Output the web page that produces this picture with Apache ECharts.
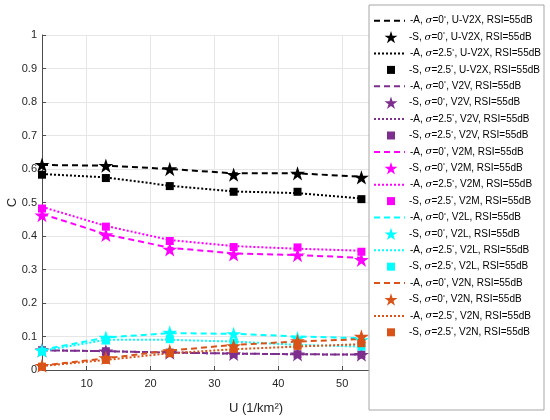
<!DOCTYPE html>
<html>
<head>
    <meta charset="utf-8">
    <title>C vs U</title>
    <script src="https://cdn.jsdelivr.net/npm/echarts@6/dist/echarts.min.js"></script>
    <style>
        body { margin: 0; background: #fff; }
        #chart { width: 550px; height: 420px; }
    </style>
</head>
<body>
    <div id="chart"></div>
<script type="text/javascript">
    // U values (1/km^2)
    var uVals = [3, 13, 23, 33, 43, 53];
    var xTicks = [10, 20, 30, 40, 50, 60];

    // groups: name + colour
    var groups = ['U-V2X', 'V2V', 'V2M', 'V2L', 'V2N'];
    var colors = ['#000000', '#7E2F8E', '#FF00FF', '#00FFFF', '#D95319'];

    // analytical (lines) and simulated (markers), sigma = 0 and 2.5 deg
    var v2xA0 = [0.612, 0.610, 0.600, 0.587, 0.587, 0.577];
    var v2xS0 = [0.613, 0.610, 0.600, 0.583, 0.587, 0.575];
    var v2xA25 = [0.585, 0.575, 0.550, 0.533, 0.528, 0.512];
    var v2xS25 = [0.583, 0.573, 0.549, 0.532, 0.532, 0.510];

    var v2vA0 = [0.059, 0.056, 0.052, 0.049, 0.047, 0.046];
    var v2vS0 = [0.059, 0.056, 0.052, 0.048, 0.047, 0.046];
    var v2vA25 = [0.059, 0.056, 0.052, 0.049, 0.047, 0.046];
    var v2vS25 = [0.059, 0.056, 0.052, 0.048, 0.047, 0.046];

    var v2mA0 = [0.466, 0.405, 0.365, 0.348, 0.343, 0.335];
    var v2mS0 = [0.462, 0.403, 0.360, 0.345, 0.343, 0.329];
    var v2mA25 = [0.487, 0.430, 0.388, 0.370, 0.362, 0.356];
    var v2mS25 = [0.482, 0.428, 0.385, 0.367, 0.366, 0.353];

    var v2lA0 = [0.060, 0.097, 0.110, 0.108, 0.100, 0.095];
    var v2lS0 = [0.058, 0.097, 0.112, 0.108, 0.095, 0.090];
    var v2lA25 = [0.057, 0.090, 0.090, 0.085, 0.075, 0.070];
    var v2lS25 = [0.055, 0.088, 0.092, 0.082, 0.075, 0.070];

    var v2nA0 = [0.013, 0.035, 0.058, 0.075, 0.085, 0.092];
    var v2nS0 = [0.013, 0.036, 0.057, 0.072, 0.087, 0.100];
    var v2nA25 = [0.012, 0.030, 0.050, 0.062, 0.070, 0.077];
    var v2nS25 = [0.010, 0.030, 0.050, 0.063, 0.072, 0.080];

    var groupData = [
        [v2xA0, v2xS0, v2xA25, v2xS25],
        [v2vA0, v2vS0, v2vA25, v2vS25],
        [v2mA0, v2mS0, v2mA25, v2mS25],
        [v2lA0, v2lS0, v2lA25, v2lS25],
        [v2nA0, v2nS0, v2nA25, v2nS25]
    ];

    // five point star (pentagram)
    var STAR = 'path://M50,0 L61.2,34.5 L97.6,34.5 L68.2,55.9 L79.4,90.5 L50,69.1 L20.6,90.5 L31.8,55.9 L2.4,34.5 L38.8,34.5 Z';

    function pairs(arr) {
        return arr.map(function (v, i) { return [uVals[i], v]; });
    }

    var series = [];
    var legends = [];
    var font = 'Liberation Sans';
    var legendRich = {
        i: { fontStyle: 'italic', fontSize: 10, fontFamily: 'DejaVu Serif', lineHeight: 14 },
        s: { fontSize: 6, padding: [0, 0, 5, 0], lineHeight: 14 }
    };
    function fmt(name) {
        return name.replace('σ', '{i|σ}').replace('°', '{s|°}');
    }
    function legendText(extraPad) {
        return {
            fontSize: 10, fontFamily: font, color: '#000', lineHeight: 14,
            rich: legendRich, padding: [0, 0, 0, extraPad]
        };
    }

    var idx = 0;
    groups.forEach(function (g, gi) {
        var c = colors[gi];
        var d = groupData[gi];
        var kinds = [
            { n: '-A, σ=0°, ' + g + ', RSI=55dB', type: 'dash', data: d[0] },
            { n: '-S, σ=0°, ' + g + ', RSI=55dB', sym: 'star', data: d[1] },
            { n: '-A, σ=2.5°, ' + g + ', RSI=55dB', type: 'dot', data: d[2] },
            { n: '-S, σ=2.5°, ' + g + ', RSI=55dB', sym: 'rect', data: d[3] }
        ];
        kinds.forEach(function (k) {
            var cy = 20.7 + idx * 16.4;
            if (k.type) {
                series.push({
                    name: k.n,
                    type: 'line',
                    data: pairs(k.data),
                    symbol: 'none',
                    lineStyle: {
                        color: c,
                        width: 2,
                        type: k.type == 'dash' ? [6, 4] : [2, 2]
                    },
                    itemStyle: { color: c },
                    z: 2
                });
                legends.push({
                    data: [k.n], left: 373, top: cy - 7, padding: 0,
                    itemWidth: 31, itemHeight: 14, selectedMode: false,
                    itemStyle: { opacity: 0 },
                    formatter: fmt,
                    textStyle: legendText(0)
                });
            } else {
                var isStar = k.sym == 'star';
                series.push({
                    name: k.n,
                    type: 'scatter',
                    data: pairs(k.data),
                    symbol: isStar ? STAR : 'rect',
                    symbolSize: isStar ? 15 : 8,
                    symbolKeepAspect: true,
                    itemStyle: { color: c, opacity: 1 },
                    z: 3
                });
                var lw = isStar ? 13 : 8;
                legends.push({
                    data: [k.n], left: 391 - lw / 2, top: cy - 7, padding: 0,
                    itemWidth: lw, itemHeight: lw, selectedMode: false,
                    formatter: fmt,
                    textStyle: legendText(409 - (391 + lw / 2) - 5)
                });
            }
            idx++;
        });
    });

    var option = {
        animation: false,
        backgroundColor: '#fff',
        grid: { left: 42, top: 35, right: 80, bottom: 50, containLabel: false, outerBoundsMode: 'none' },
        graphic: [{
            type: 'rect',
            z: 3,
            shape: { x: 369, y: 5, width: 175, height: 405 },
            style: { fill: '#fff', stroke: '#a6a6a6', lineWidth: 1 }
        }],
        legend: legends,
        xAxis: {
            type: 'value',
            min: 3,
            max: 70,
            splitNumber: 6,
            name: 'U (1/km²)',
            nameLocation: 'middle',
            nameGap: 32,
            nameTextStyle: { fontSize: 13, fontFamily: font, color: '#262626' },
            axisLine: { lineStyle: { color: '#4d4d4d', width: 1 } },
            axisTick: { inside: true, length: 4, lineStyle: { color: '#4d4d4d' }, customValues: xTicks },
            axisLabel: {
                margin: 8,
                fontSize: 11, fontFamily: font, color: '#262626',
                customValues: xTicks
            },
            splitLine: { show: true, lineStyle: { color: '#e6e6e6', width: 1 } }
        },
        yAxis: {
            type: 'value',
            min: 0,
            max: 1,
            interval: 0.1,
            name: 'C',
            nameLocation: 'middle',
            nameGap: 23,
            nameMoveOverlap: false,
            nameTextStyle: { fontSize: 13, fontFamily: font, color: '#262626' },
            axisLine: { show: true, lineStyle: { color: '#4d4d4d', width: 1 } },
            axisTick: { show: true, inside: true, length: 4, lineStyle: { color: '#4d4d4d' } },
            axisLabel: { margin: 5, fontSize: 11, fontFamily: font, color: '#262626' },
            splitLine: { show: true, lineStyle: { color: '#e6e6e6', width: 1 } }
        },
        series: series
    };

    var myChart = echarts.init(document.getElementById('chart'));
    myChart.setOption(option);
</script>
</body>
</html>
